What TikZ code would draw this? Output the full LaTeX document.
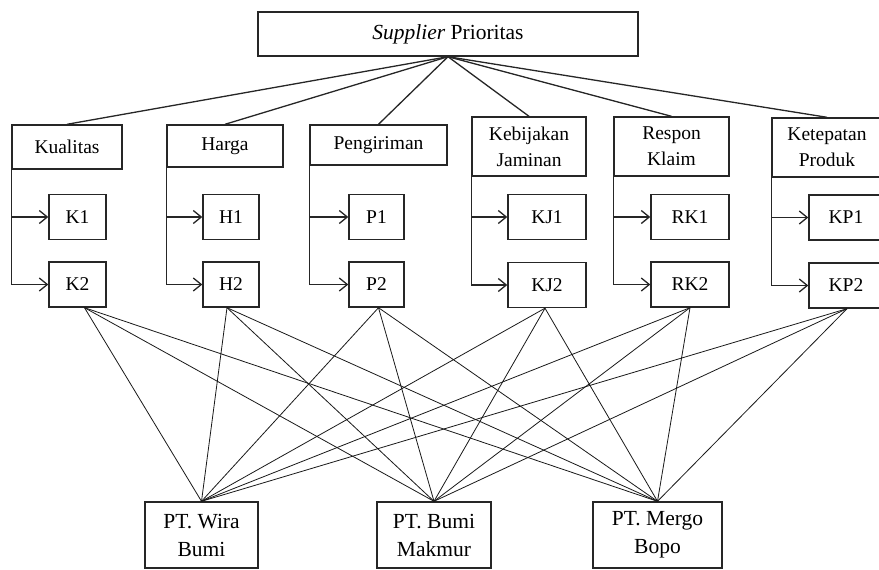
\documentclass[tikz,border=0pt]{standalone}
\usepackage{fontspec}
\setmainfont{Liberation Serif}
\usetikzlibrary{arrows.meta}
\begin{document}
\begin{tikzpicture}[x=1pt,y=-1pt,
  box/.style={draw=black!85, line width=1.4pt, inner sep=0pt, align=center,
    font=\fontsize{19.5}{26}\selectfont},
  big/.style={box, font=\fontsize{21.5}{28}\selectfont},
  link/.style={draw=black!85, line width=1.3pt},
  arr/.style={link, -{Straight Barb[length=8pt,width=13pt]}},
  cross/.style={draw=black!90, line width=0.8pt}]
\useasboundingbox (0,0) rectangle (879,570);
% goal
\node[big, minimum width=380pt, minimum height=44pt] (top) at (448,34) {\textit{Supplier} Prioritas};
% criteria
\node[box, minimum width=110pt, minimum height=44pt] (kual) at (67,147) {Kualitas};
\node[box, minimum width=116pt, minimum height=42pt] (harga) at (225,146) {Harga};
\node[box, minimum width=137pt, minimum height=40pt] (peng) at (378.5,145) {Pengiriman};
\node[box, minimum width=114pt, minimum height=59pt] (keb) at (529,146.5) {Kebijakan\\Jaminan};
\node[box, minimum width=115pt, minimum height=59pt] (resp) at (671.5,146.5) {Respon\\Klaim};
\node[box, minimum width=110pt, minimum height=59pt] (ket) at (827,147.5) {Ketepatan\\Produk};
% sub-criteria
\node[box, minimum width=57pt, minimum height=45pt] (K1) at (77.5,217) {K1};
\node[box, minimum width=57pt, minimum height=45pt] (K2) at (77.5,284.5) {K2};
\node[box, minimum width=56pt, minimum height=45pt] (H1) at (231,217) {H1};
\node[box, minimum width=56pt, minimum height=45pt] (H2) at (231,284.5) {H2};
\node[box, minimum width=55pt, minimum height=45pt] (P1) at (376.5,217) {P1};
\node[box, minimum width=55pt, minimum height=45pt] (P2) at (376.5,284.5) {P2};
\node[box, minimum width=78pt, minimum height=45pt] (KJ1) at (547,217) {KJ1};
\node[box, minimum width=78pt, minimum height=45pt] (KJ2) at (547,285) {KJ2};
\node[box, minimum width=78pt, minimum height=45pt] (RK1) at (690,217) {RK1};
\node[box, minimum width=78pt, minimum height=45pt] (RK2) at (690,284.5) {RK2};
\node[box, minimum width=74pt, minimum height=45pt] (KP1) at (846,217.5) {KP1};
\node[box, minimum width=74pt, minimum height=45pt] (KP2) at (846,285.5) {KP2};
% alternatives
\node[big, minimum width=113pt, minimum height=66pt] (W) at (201.5,535) {PT. Wira\\Bumi};
\node[big, minimum width=114pt, minimum height=66pt] (B) at (434,535) {PT. Bumi\\Makmur};
\node[big, minimum width=129pt, minimum height=66pt] (M) at (657.5,535) {PT. Mergo\\Bopo};
% goal to criteria
\foreach \c in {kual,harga,peng,keb,resp,ket}
  \draw[link] (top.south) -- (\c.north);
% criteria to sub-criteria
\foreach \c/\a/\b in {kual/K1/K2,harga/H1/H2,peng/P1/P2,keb/KJ1/KJ2,resp/RK1/RK2,ket/KP1/KP2}{
  \draw[arr] (\c.south west) |- (\b.west);
  \draw[arr] (\c.south west |- \a.west) -- (\a.west);
}
% sub-criteria to alternatives
\foreach \s/\dx in {K2/7,H2/-4,P2/2,KJ2/-2,RK2/0,KP2/1}
  \foreach \t in {W,B,M}
    \draw[cross] ([xshift=\dx pt]\s.south) -- (\t.north);
\end{tikzpicture}
\end{document}
